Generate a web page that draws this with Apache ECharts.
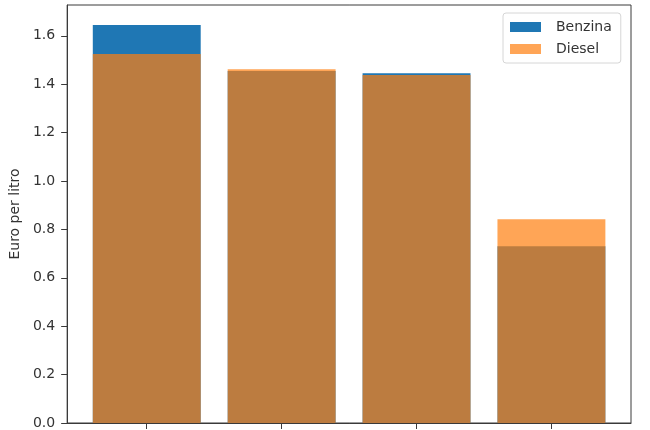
<!DOCTYPE html>
<html>
<head>
<meta charset="utf-8">
<script src="https://cdn.jsdelivr.net/npm/echarts@6/dist/echarts.min.js"></script>
<style>html,body{margin:0;padding:0;background:#fff}#c{width:650px;height:430px}</style>
</head>
<body>
<div id="c"></div>
<script>
// x labels are cut off in the reference; categories only give bar positions
const categories = ['A', 'B', 'C', 'D'];
const benzina = [1.645, 1.455, 1.445, 0.73];
const diesel = [1.525, 1.462, 1.438, 0.842];
const yTicks = [0, 0.2, 0.4, 0.6, 0.8, 1.0, 1.2, 1.4, 1.6];
const yName = 'Euro per litro';
const seriesNames = ['Benzina', 'Diesel'];

const FONT = 'DejaVu Sans';
const idx = categories.map((c, i) => i);
const allVals = benzina.concat(diesel);
const yMax = Math.max(...allVals) * 1.05;
const xMin = -0.4 - 0.05 * (idx.length - 1 + 0.8);
const xMax = idx.length - 1 + 0.4 + 0.05 * (idx.length - 1 + 0.8);

const chart = echarts.init(document.getElementById('c'), null, {renderer: 'canvas'});
chart.setOption({
  animation: false,
  backgroundColor: '#fff',
  textStyle: {fontFamily: FONT},
  grid: {left: 66, right: 19, top: 5, bottom: 6, show: true, borderColor: '#3a3a3a', borderWidth: 1, containLabel: false},
  legend: {
    orient: 'vertical', left: 503, top: 13,
    padding: [7, 9, 7, 7],
    itemWidth: 31, itemHeight: 10, itemGap: 8, icon: 'rect',
    backgroundColor: 'rgba(255,255,255,0.8)', borderColor: '#d6d6d6', borderWidth: 1, borderRadius: 3,
    textStyle: {fontFamily: FONT, fontSize: 14, color: '#333', padding: [0, 0, 0, 10]},
    data: seriesNames
  },
  xAxis: {
    type: 'value', min: xMin, max: xMax,
    axisLine: {show: true, onZero: false, lineStyle: {color: '#3a3a3a', width: 1}},
    axisTick: {show: true, customValues: idx, length: 6, lineStyle: {color: '#3a3a3a'}},
    axisLabel: {show: false, customValues: idx},
    splitLine: {show: false}
  },
  yAxis: {
    type: 'value', min: 0, max: yMax,
    name: yName, nameLocation: 'middle', nameGap: 45,
    nameTextStyle: {fontFamily: FONT, fontSize: 14, color: '#333'},
    axisLine: {show: true, onZero: false, lineStyle: {color: '#3a3a3a', width: 1}},
    axisTick: {show: true, customValues: yTicks, length: 6, lineStyle: {color: '#3a3a3a'}},
    axisLabel: {customValues: yTicks, margin: 12, fontFamily: FONT, fontSize: 14, color: '#333',
      formatter: v => v.toFixed(1)},
    splitLine: {show: false}
  },
  series: [
    {name: seriesNames[0], type: 'bar', barWidth: '80%', barGap: '-100%',
     itemStyle: {color: '#1f77b4'},
     data: idx.map(i => [i, benzina[i]])},
    {name: seriesNames[1], type: 'bar', barWidth: '80%', barGap: '-100%',
     itemStyle: {color: 'rgba(255,127,14,0.7)'},
     data: idx.map(i => [i, diesel[i]])}
  ]
});
</script>
</body>
</html>
